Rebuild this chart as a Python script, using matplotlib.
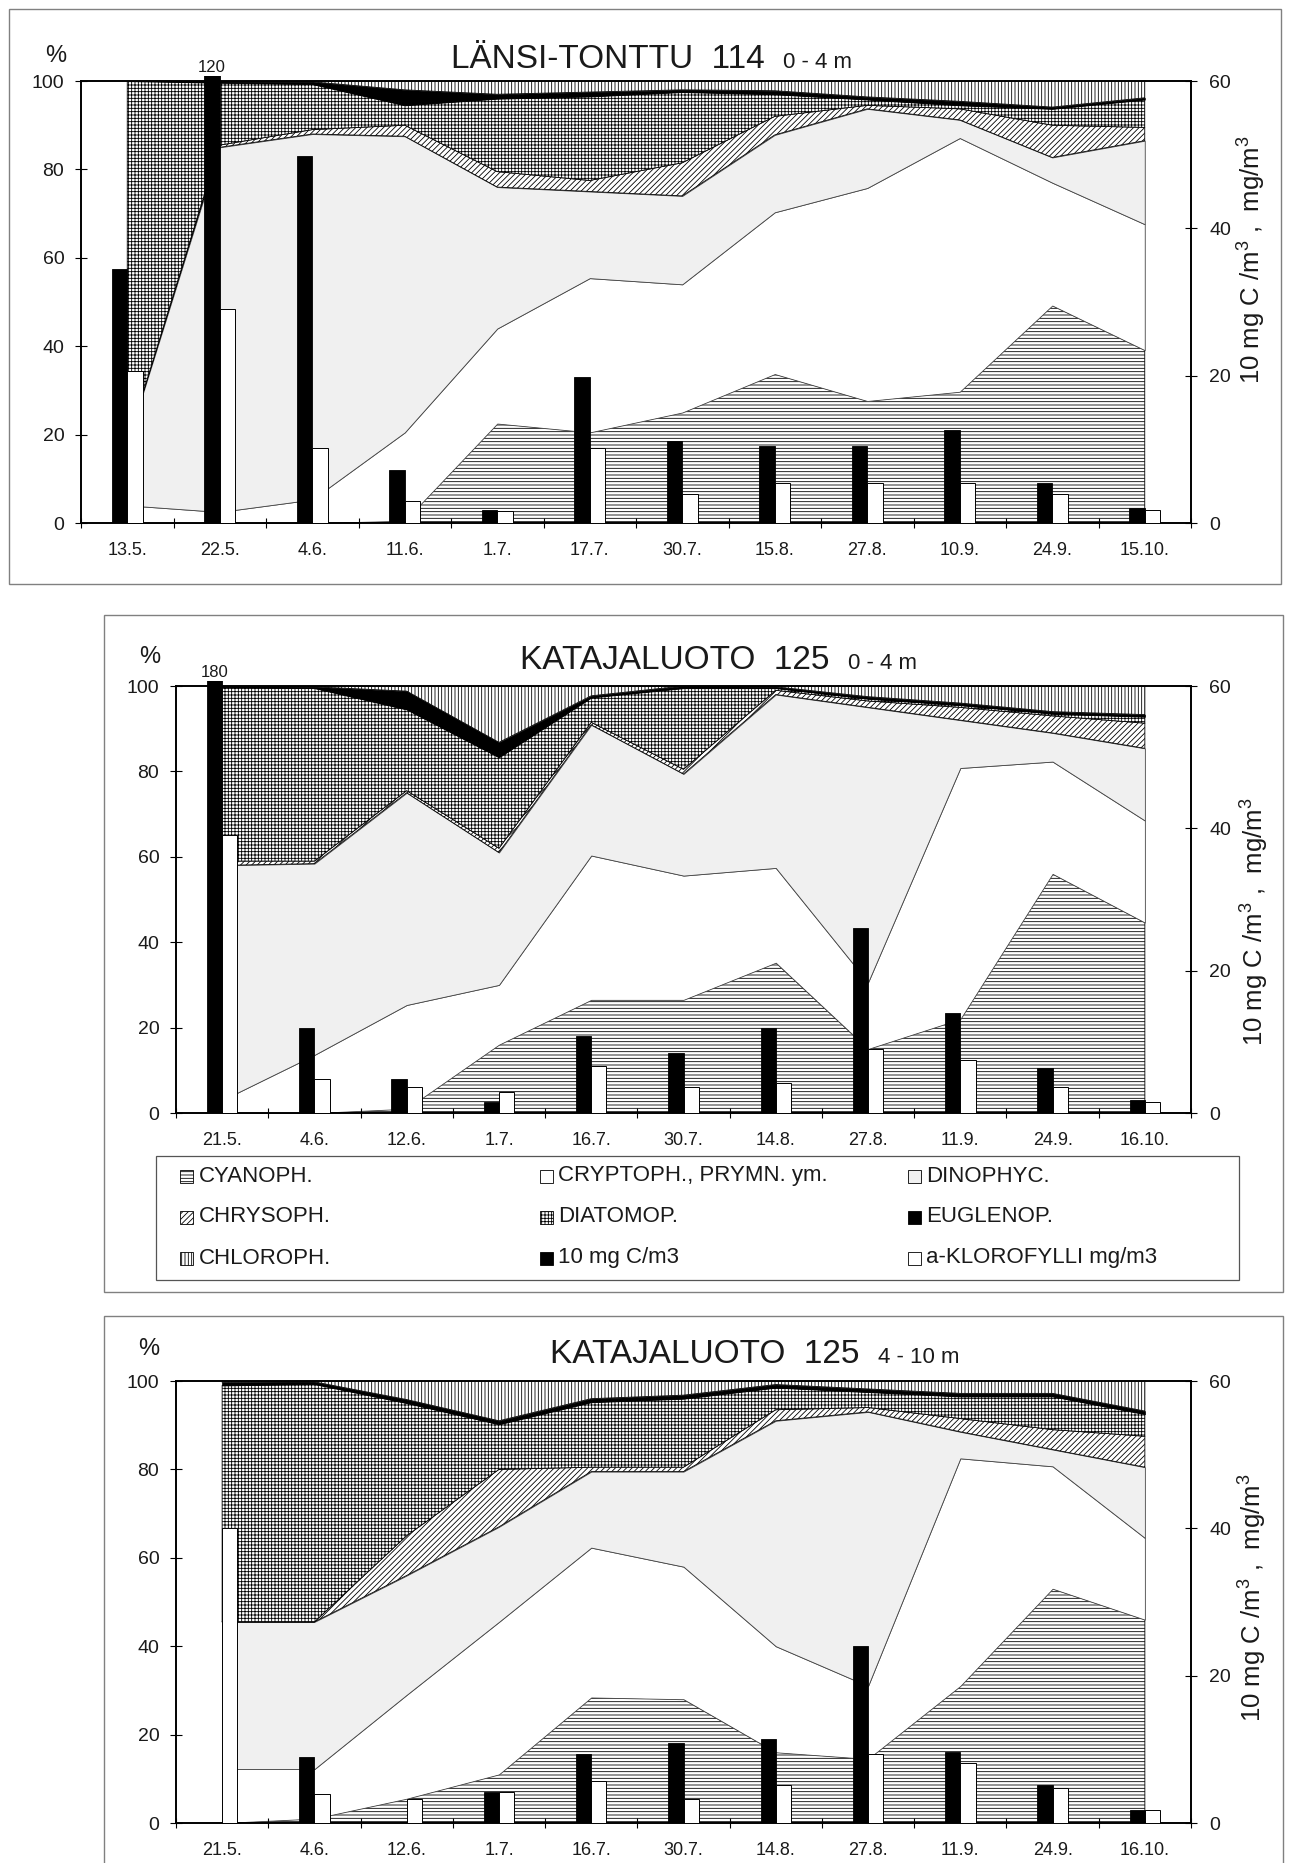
import numpy as np
import matplotlib
matplotlib.use("Agg")
import matplotlib.pyplot as plt
from matplotlib.patches import Rectangle
from matplotlib.transforms import Bbox, TransformedBbox

plt.rcParams['font.family'] = ['Liberation Sans', 'DejaVu Sans']
plt.rcParams['mathtext.fontset'] = 'custom'
plt.rcParams['mathtext.rm'] = 'Liberation Sans'
plt.rcParams['mathtext.it'] = 'Liberation Sans:italic'
plt.rcParams['mathtext.bf'] = 'Liberation Sans:bold'
plt.rcParams['hatch.linewidth'] = 0.6

FIG_W, FIG_H = 1293, 1863

group_names = ["CYANOPH.", "CRYPTOPH., PRYMN. ym.", "DINOPHYC.", "CHRYSOPH.",
               "DIATOMOP.", "EUGLENOP.", "CHLOROPH."]
carbon_name = "10 mg C/m3"
chl_name = "a-KLOROFYLLI mg/m3"

# ---- Länsi-Tonttu 114, 0-4 m (share of biomass, %) ----
lt_dates = ["13.5.", "22.5.", "4.6.", "11.6.", "1.7.", "17.7.", "30.7.",
            "15.8.", "27.8.", "10.9.", "24.9.", "15.10."]
lt_cyanoph = [0, 0, 0, 0.5, 22.5, 20.5, 25, 33.7, 27.6, 29.7, 49.2, 39.1]
lt_cryptoph = [4, 2.5, 5.3, 20, 21.5, 34.9, 29, 36.6, 48.2, 57.4, 27.8, 28.5]
lt_dinophyc = [14, 82.5, 82.7, 67, 32, 19.6, 20, 17.5, 17.9, 4.1, 5.7, 18.9]
lt_chrysoph = [0, 0.5, 1, 2.5, 3.5, 2.5, 7.5, 4.2, 0.8, 2.5, 7.3, 3]
lt_diatomop = [82, 14.1, 10.3, 4.5, 16.5, 19, 16, 5, 1.3, 0.8, 3.7, 6.3]
lt_euglenop = [0, 0.2, 0.5, 3.5, 1, 1, 0.5, 0.8, 0.6, 0.9, 0.4, 0.4]
lt_chloroph = [0, 0.2, 0.2, 2, 3, 2.5, 2, 2.2, 3.6, 4.6, 5.9, 3.8]
lt_carbon = [34.5, 120, 49.8, 7.2, 1.8, 19.8, 11.1, 10.5, 10.5, 12.6, 5.4, 2.1]
lt_chl = [20.7, 29.1, 10.2, 3.0, 1.6, 10.2, 3.9, 5.4, 5.4, 5.4, 3.9, 1.8]

# ---- Katajaluoto 125, 0-4 m ----
k1_dates = ["21.5.", "4.6.", "12.6.", "1.7.", "16.7.", "30.7.", "14.8.",
            "27.8.", "11.9.", "24.9.", "16.10."]
k1_cyanoph = [0, 0, 1, 16, 26.5, 26.5, 35.2, 15, 22, 56, 44.6]
k1_cryptoph = [3, 13.6, 24.3, 14, 33.8, 29.1, 22.2, 15.6, 58.8, 26.3, 23.9]
k1_dinophyc = [55, 44.8, 49.7, 31, 30.6, 23.8, 40.6, 64.4, 11.2, 6.7, 16.9]
k1_chrysoph = [1, 0.6, 0.5, 1, 0.6, 1.1, 1, 1.5, 3, 4, 5.9]
k1_diatomop = [40.7, 40.5, 19, 21.3, 5.8, 19, 0.5, 0.5, 0.5, 0.5, 1.5]
k1_euglenop = [0.3, 0.3, 4.3, 3.5, 0.4, 0.5, 0.3, 0.5, 0.5, 0.5, 0.5]
k1_chloroph = [0, 0.2, 1.2, 13.2, 2.3, 0, 0.2, 2.5, 4, 6, 6.7]
k1_carbon = [180, 12, 4.8, 1.5, 10.8, 8.4, 12, 26, 14, 6.3, 1.8]
k1_chl = [39, 4.8, 3.6, 3, 6.6, 3.6, 4.2, 9, 7.5, 3.6, 1.5]

# ---- Katajaluoto 125, 4-10 m ----
k2_dates = ["21.5.", "4.6.", "12.6.", "1.7.", "16.7.", "30.7.", "14.8.",
            "27.8.", "11.9.", "24.9.", "16.10."]
k2_cyanoph = [0, 1, 5.5, 11, 28.4, 28, 16, 14.5, 31, 53, 46]
k2_cryptoph = [12.2, 11.2, 23.5, 34.5, 33.9, 30, 24, 16.5, 51.5, 27.7, 18.5]
k2_dinophyc = [33.3, 33.3, 27, 21.5, 17.2, 21.5, 51, 62, 6, 3.8, 16]
k2_chrysoph = [0, 0, 9, 13, 1, 1, 2.5, 1, 3, 4.5, 7]
k2_diatomop = [53.5, 53.8, 30, 10.2, 14.7, 15.5, 5, 3.5, 5, 7.5, 5]
k2_euglenop = [0.7, 0.5, 0.8, 0.8, 0.8, 0.8, 0.7, 0.7, 0.7, 0.7, 0.7]
k2_chloroph = [0.3, 0.2, 4.2, 9, 4, 3.2, 0.8, 1.8, 2.8, 2.8, 6.8]
k2_carbon = [0, 9, 0, 4.2, 9.3, 10.8, 11.4, 24, 9.6, 5.1, 1.8]
k2_chl = [40, 3.9, 3.3, 4.2, 5.7, 3.3, 5.1, 9.3, 8.1, 4.8, 1.8]

# fill styles of the stacked groups, bottom to top
STYLES = [
    dict(facecolor='white', hatch='-----', edgecolor='black'),
    dict(facecolor='white', edgecolor='#444444'),
    dict(facecolor='#f0f0f0', edgecolor='#444444'),
    dict(facecolor='white', hatch='//////', edgecolor='black'),
    dict(facecolor='white', hatch='+++++', edgecolor='black'),
    dict(facecolor='black', edgecolor='black'),
    dict(facecolor='white', hatch='|||||', edgecolor='black'),
]

TXT = '#1a1a1a'

fig = plt.figure(figsize=(FIG_W / 100, FIG_H / 100), dpi=100)


def fx(px):
    return px / FIG_W


def fy(py):
    return 1 - py / FIG_H


def frame(x0, y0, x1, y1, color='#808080', lw=1.0):
    fig.add_artist(Rectangle((fx(x0), fy(y1)), fx(x1) - fx(x0), fy(y0) - fy(y1),
                             transform=fig.transFigure, fill=False,
                             edgecolor=color, linewidth=lw))


def draw_panel(box, dates, shares, carbon, chl, title, depth, title_right,
               title_base, pct_xy, ylab_xy):
    x0, y0, x1, y1 = box
    ax = fig.add_axes([fx(x0), fy(y1), fx(x1) - fx(x0), fy(y0) - fy(y1)])
    n = len(dates)
    x = np.arange(n)
    stack = np.vstack(shares).astype(float)
    stack = stack / stack.sum(axis=0) * 100.0
    cum = np.cumsum(stack, axis=0)
    lower = np.zeros(n)
    for k, st in enumerate(STYLES):
        ax.fill_between(x, lower, cum[k], linewidth=0.6, zorder=1, **st)
        lower = cum[k]
    ax.set_xlim(-0.5, n - 0.5)
    ax.set_ylim(0, 100)
    ax.set_yticks(range(0, 101, 20))
    ax.set_xticks(x)
    ax.set_xticklabels(dates)
    ax.set_xticks(np.arange(-0.5, n), minor=True)
    ax.tick_params(axis='x', which='major', length=0, pad=14, labelsize=13,
                   labelcolor=TXT)
    ax.tick_params(axis='x', which='minor', direction='inout', length=7, width=0.8)
    ax.tick_params(axis='y', direction='inout', length=8, width=0.8,
                   labelsize=14, pad=8, labelcolor=TXT)
    for s in ax.spines.values():
        s.set_linewidth(1.2)

    ax2 = ax.twinx()
    ax2.set_ylim(0, 60)
    ax2.set_yticks([0, 20, 40, 60])
    ax2.tick_params(axis='y', direction='inout', length=8, width=0.8,
                    labelsize=14, pad=9, labelcolor=TXT)
    for s in ax2.spines.values():
        s.set_linewidth(1.2)
    w = 0.165
    clip = TransformedBbox(Bbox([[0, 0], [1, 1.012]]), ax2.transAxes)
    bars_c = ax2.bar(x - w / 2, carbon, width=w, color='black',
                     edgecolor='black', linewidth=0.6, zorder=3)
    bars_w = ax2.bar(x + w / 2, chl, width=w, color='white',
                     edgecolor='black', linewidth=0.7, zorder=3)
    for b in list(bars_c) + list(bars_w):
        b.set_clip_box(clip)
    top = ax2.get_ylim()[1]
    for xi, v in zip(x, carbon):
        if v > top:
            ax2.annotate(f"{v:g}", (xi - w / 2, top), xytext=(0, 4),
                         textcoords='offset points', ha='center', va='bottom',
                         fontsize=12, color=TXT, annotation_clip=False)

    fig.text(fx(title_right), fy(title_base), title, ha='right', va='baseline',
             fontsize=24, color=TXT)
    fig.text(fx(title_right + 18), fy(title_base), depth, ha='left',
             va='baseline', fontsize=16, color=TXT)
    fig.text(fx(pct_xy[0]), fy(pct_xy[1]), "%", ha='center', va='center',
             fontsize=17, color=TXT)
    fig.text(fx(ylab_xy[0]), fy(ylab_xy[1]),
             r"10 mg C /m$^3$ ,  mg/m$^3$", rotation=90, ha='center',
             va='center', fontsize=18.5, color=TXT)
    return ax


# panel frames
frame(9, 9, 1281, 584)
frame(104, 615, 1283, 1292)
frame(104, 1316, 1283, 1880)

draw_panel((81, 81, 1191, 523), lt_dates,
           [lt_cyanoph, lt_cryptoph, lt_dinophyc, lt_chrysoph, lt_diatomop,
            lt_euglenop, lt_chloroph], lt_carbon, lt_chl,
           "LÄNSI-TONTTU  114", "0 - 4 m", 765, 68, (56, 56), (1252, 260))

draw_panel((176, 686, 1191, 1113), k1_dates,
           [k1_cyanoph, k1_cryptoph, k1_dinophyc, k1_chrysoph, k1_diatomop,
            k1_euglenop, k1_chloroph], k1_carbon, k1_chl,
           "KATAJALUOTO  125", "0 - 4 m", 830, 669, (150, 657), (1255, 922))

draw_panel((176, 1381, 1191, 1823), k2_dates,
           [k2_cyanoph, k2_cryptoph, k2_dinophyc, k2_chrysoph, k2_diatomop,
            k2_euglenop, k2_chloroph], k2_carbon, k2_chl,
           "KATAJALUOTO  125", "4 - 10 m", 860, 1363, (149, 1349), (1253, 1598))

# legend box inside the middle panel
frame(156, 1156, 1239, 1280, color='#555555', lw=0.9)
legend_styles = STYLES + [dict(facecolor='black', edgecolor='black'),
                          dict(facecolor='white', edgecolor='black')]
legend_labels = group_names + [carbon_name, chl_name]
col_x = [186, 546, 914]
row_y = [1176, 1217, 1258]
msz = 13
for i, (lab, st) in enumerate(zip(legend_labels, legend_styles)):
    r, c = divmod(i, 3)
    mx, my = col_x[c], row_y[r]
    st = dict(st)
    if st.get('edgecolor') == '#444444':
        st['edgecolor'] = 'black'
    fig.add_artist(Rectangle((fx(mx - msz / 2), fy(my + msz / 2)), msz / FIG_W,
                             msz / FIG_H, transform=fig.transFigure,
                             linewidth=0.6, **st))
    fig.text(fx(mx + msz / 2 + 6), fy(my), lab, ha='left', va='center',
             fontsize=16, color=TXT)

fig.savefig("out.png", dpi=100)
